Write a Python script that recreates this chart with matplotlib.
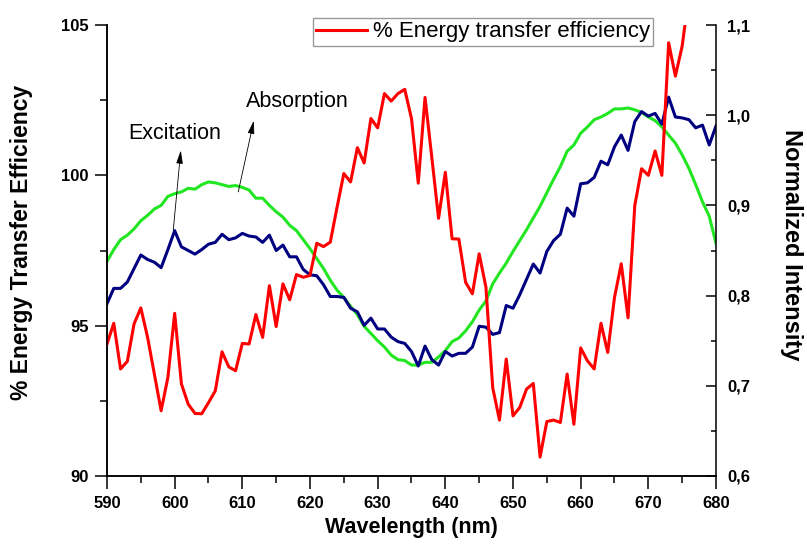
import matplotlib
matplotlib.use('Agg')
import matplotlib.pyplot as plt
from matplotlib.ticker import MultipleLocator, FuncFormatter

plt.rcParams['font.family'] = ['Liberation Sans', 'DejaVu Sans']

# wavelength grid (nm)
wl = list(range(590, 681))
wl_red = list(range(590, 677))

# % energy transfer efficiency (left axis)
efficiency = [
    94.39, 95.08, 93.56, 93.81, 95.06, 95.59, 94.61, 93.39, 92.17, 93.28,
    95.41, 93.06, 92.39, 92.08, 92.07, 92.44, 92.83, 94.13, 93.63, 93.50,
    94.41, 94.39, 95.37, 94.61, 96.33, 94.97, 96.39, 95.86, 96.70, 96.61,
    96.67, 97.74, 97.63, 97.78, 98.94, 100.06, 99.78, 100.92, 100.41, 101.89,
    101.58, 102.72, 102.47, 102.72, 102.86, 101.89, 99.74, 102.59, 100.60, 98.57,
    100.10, 97.89, 97.88, 96.44, 96.06, 97.39, 96.28, 92.94, 91.86, 93.89,
    92.00, 92.28, 92.89, 93.08, 90.63, 91.81, 91.86, 91.78, 93.39, 91.72,
    94.26, 93.83, 93.56, 95.08, 94.11, 95.94, 97.06, 95.26, 99.00, 100.22,
    100.00, 100.81, 100.00, 104.41, 103.30, 104.30, 106.00,
]

# normalized excitation (right axis)
excitation = [
    0.791, 0.808, 0.808, 0.815, 0.830, 0.845, 0.840, 0.837, 0.831, 0.851,
    0.872, 0.854, 0.850, 0.846, 0.851, 0.857, 0.859, 0.868, 0.862, 0.864,
    0.869, 0.866, 0.865, 0.859, 0.867, 0.850, 0.856, 0.843, 0.843, 0.829,
    0.823, 0.822, 0.812, 0.799, 0.799, 0.798, 0.786, 0.782, 0.767, 0.775,
    0.763, 0.763, 0.754, 0.749, 0.747, 0.738, 0.722, 0.744, 0.729, 0.723,
    0.738, 0.733, 0.736, 0.736, 0.743, 0.766, 0.765, 0.757, 0.759, 0.789,
    0.786, 0.801, 0.818, 0.835, 0.825, 0.849, 0.861, 0.868, 0.897, 0.888,
    0.924, 0.925, 0.931, 0.949, 0.945, 0.965, 0.978, 0.961, 0.993, 1.004,
    0.999, 1.002, 0.990, 1.020, 0.998, 0.997, 0.995, 0.986, 0.989, 0.967,
    0.988,
]

# normalized absorption (right axis)
absorption = [
    0.838, 0.851, 0.862, 0.867, 0.874, 0.883, 0.889, 0.896, 0.900, 0.910,
    0.913, 0.915, 0.919, 0.918, 0.923, 0.926, 0.925, 0.923, 0.921, 0.922,
    0.920, 0.917, 0.908, 0.908, 0.900, 0.893, 0.887, 0.878, 0.872, 0.862,
    0.852, 0.841, 0.830, 0.817, 0.806, 0.798, 0.788, 0.779, 0.766, 0.758,
    0.750, 0.743, 0.734, 0.729, 0.728, 0.723, 0.723, 0.726, 0.726, 0.732,
    0.739, 0.749, 0.753, 0.761, 0.771, 0.784, 0.794, 0.813, 0.825, 0.836,
    0.849, 0.861, 0.873, 0.886, 0.899, 0.914, 0.929, 0.943, 0.960, 0.967,
    0.980, 0.987, 0.995, 0.998, 1.002, 1.007, 1.007, 1.008, 1.006, 1.003,
    0.998, 0.994, 0.987, 0.978, 0.969, 0.956, 0.941, 0.923, 0.904, 0.888,
    0.858,
]

W, H = 807, 546
fig = plt.figure(figsize=(W / 100, H / 100), dpi=100)
ax = fig.add_axes([107 / W, 1 - 476 / H, (716 - 107) / W, (476 - 25) / H])
ax2 = ax.twinx()

ax2.plot(wl, absorption, color='#22e622', linewidth=2.2)
ax2.plot(wl, excitation, color='#000080', linewidth=2.2)
red_line, = ax.plot(wl_red, efficiency, color='#ff0000', linewidth=2.2)

# red line on top
ax.set_zorder(ax2.get_zorder() + 1)
ax.patch.set_visible(False)

ax.set_xlim(590, 680)
ax.set_ylim(90, 105)
ax2.set_ylim(0.6, 1.1)

ax.xaxis.set_major_locator(MultipleLocator(10))
ax.xaxis.set_minor_locator(MultipleLocator(5))
ax.yaxis.set_major_locator(MultipleLocator(5))
ax.yaxis.set_minor_locator(MultipleLocator(2.5))
ax2.yaxis.set_major_locator(MultipleLocator(0.1))
ax2.yaxis.set_minor_locator(MultipleLocator(0.05))
ax2.yaxis.set_major_formatter(FuncFormatter(lambda v, p: f'{v:.1f}'.replace('.', ',')))

for a in (ax, ax2):
    a.spines['top'].set_visible(False)
    for s in a.spines.values():
        s.set_linewidth(1.1)
ax.spines['right'].set_visible(False)

ax.tick_params(axis='x', which='major', direction='out', length=9, width=1.1, pad=5.5, labelsize=12)
ax.tick_params(axis='y', which='major', direction='out', length=9, width=1.1, pad=4, labelsize=12)
ax.tick_params(which='minor', direction='out', length=5, width=1.1)
ax2.tick_params(which='major', direction='in', length=7, width=1.1, pad=8, labelsize=12)
ax2.tick_params(which='minor', direction='in', length=3.5, width=1.1)

for lbl in ax.get_xticklabels() + ax.get_yticklabels() + ax2.get_yticklabels():
    lbl.set_fontweight('bold')

fig.text(411 / W, 1 - 527 / H, 'Wavelength (nm)', ha='center', va='center',
         fontsize=15.5, fontweight='bold')
fig.text(22 / W, 1 - 242 / H, '% Energy Transfer Efficiency', ha='center', va='center',
         rotation=90, fontsize=16.5, fontweight='bold')
fig.text(791 / W, 1 - 245 / H, 'Normalized Intensity', ha='center', va='center',
         rotation=270, fontsize=17, fontweight='bold')

# annotations
arrow = dict(arrowstyle='-|>,head_length=0.8,head_width=0.2', color='black',
             lw=0.6, shrinkA=0, shrinkB=0, mutation_scale=10)
ax2.annotate('', xy=(600.9, 0.961), xytext=(599.8, 0.873), arrowprops=arrow)
ax2.annotate('', xy=(611.7, 0.994), xytext=(609.4, 0.915), arrowprops=arrow)
ax2.text(600.0, 0.980, 'Excitation', ha='center', va='center', fontsize=15.5)
ax2.text(618.2, 1.015, 'Absorption', ha='center', va='center', fontsize=15.5)

leg = fig.legend([red_line], ['% Energy transfer efficiency'], loc='upper left',
                 bbox_to_anchor=(313 / W, 1 - 18 / H), frameon=True, fancybox=False,
                 edgecolor='#808080', borderpad=0.15, handlelength=2.3,
                 handletextpad=0.25, borderaxespad=0, prop={'size': 16})
leg.get_frame().set_linewidth(1.0)

fig.savefig('out.png', dpi=100)
